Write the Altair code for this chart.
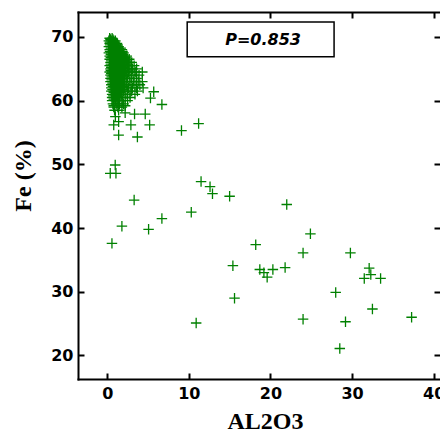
import altair as alt
import pandas as pd

# ---- data ----
# dense cluster: Fe (%) row -> AL2O3 values
cluster_rows = {
    69.8: [0.3, 0.6],
    69.6: [0.4, 0.7],
    69.4: [0.2, 0.5, 0.8, 1.0],
    69.2: [0.35, 0.65, 0.95],
    69.0: [0.3, 0.6, 0.9, 1.2],
    68.75: [0.35, 0.65, 0.95, 1.25],
    68.5: [0.2, 0.5, 0.8, 1.1, 1.4],
    68.25: [0.45, 0.75, 1.05, 1.35, 1.65],
    68.0: [0.3, 0.6, 0.9, 1.2, 1.5, 1.8],
    67.75: [0.35, 0.65, 0.95, 1.25, 1.55, 1.85],
    67.5: [0.2, 0.5, 0.8, 1.1, 1.4, 1.7, 2.0],
    67.25: [0.45, 0.75, 1.05, 1.35, 1.65, 1.95],
    67.0: [0.3, 0.6, 0.9, 1.2, 1.5, 1.8, 2.1, 2.4],
    66.75: [0.45, 0.75, 1.05, 1.35, 1.65, 1.95, 2.25],
    66.5: [0.3, 0.6, 0.9, 1.2, 1.5, 1.8, 2.1, 2.4, 2.7],
    66.25: [0.5, 0.85, 1.15, 1.45, 1.75, 2.05, 2.4],
    66.0: [0.4, 0.7, 1.0, 1.3, 1.6, 1.9, 2.2, 2.6, 3.0],
    65.75: [0.45, 0.75, 1.05, 1.35, 1.65, 1.95, 2.3],
    65.5: [0.3, 0.6, 0.9, 1.2, 1.5, 1.8, 2.1, 2.5, 2.9, 3.3],
    65.25: [0.5, 0.85, 1.15, 1.45, 1.75, 2.1],
    65.0: [0.4, 0.7, 1.0, 1.3, 1.6, 1.9, 2.3, 2.7, 3.1, 3.6],
    64.75: [0.45, 0.75, 1.05, 1.35, 1.7, 2.05],
    64.5: [0.3, 0.6, 0.9, 1.2, 1.5, 1.9, 2.2, 2.6, 3.0, 3.5, 4.3],
    64.25: [0.5, 0.85, 1.15, 1.5, 1.85],
    64.0: [0.4, 0.7, 1.0, 1.3, 1.7, 2.0, 2.4, 2.8, 3.3, 3.9],
    63.75: [0.55, 0.85, 1.2, 1.6, 1.95],
    63.5: [0.4, 0.7, 1.0, 1.4, 1.8, 2.1, 2.5, 3.0, 3.6],
    63.25: [0.55, 0.9, 1.3, 1.7],
    63.0: [0.4, 0.7, 1.1, 1.5, 1.9, 2.3, 2.7, 3.2, 3.8, 4.3],
    62.75: [0.65, 1.0, 1.4, 1.8],
    62.5: [0.5, 0.8, 1.2, 1.6, 2.0, 2.4, 2.9, 3.4, 4.0],
    62.25: [0.7, 1.1, 1.5, 1.9],
    62.0: [0.5, 0.9, 1.3, 1.7, 2.1, 2.6, 3.1, 3.6, 4.4],
    61.75: [0.65, 1.0, 1.4, 1.8],
    61.5: [0.5, 0.8, 1.2, 1.6, 2.0, 2.5, 3.0, 3.7],
    61.25: [0.8, 1.2, 1.6],
    61.0: [0.6, 1.0, 1.4, 1.8, 2.3, 2.8, 3.4],
    60.75: [0.75, 1.1, 1.5],
    60.5: [0.6, 0.9, 1.3, 1.7, 2.2, 2.8],
    60.25: [0.8, 1.2],
    60.0: [0.6, 1.0, 1.4, 1.9, 2.5],
    59.5: [0.7, 1.1, 1.5, 2.0],
    59.0: [0.8, 1.3, 1.8],
    58.5: [0.9, 1.4],
}

# scattered samples
outlier_al2o3 = [5.7, 5.3, 6.7, 0.8, 2.2, 1.0, 2.2, 3.35, 4.66, 1.4, 0.8, 2.9, 5.2,
                 1.4, 3.7, 9.1, 11.2, 0.98, 0.37, 1.07, 3.3, 1.8, 0.58, 5.07, 6.7,
                 10.3, 11.5, 12.6, 12.9, 15.0, 22.0, 10.9, 15.4, 15.6, 18.2, 18.7,
                 19.2, 19.6, 20.3, 21.8, 24.0, 24.9, 24.0, 28.0, 29.2, 28.5, 29.8,
                 32.1, 32.3, 31.5, 33.5, 32.5, 37.3]
outlier_fe = [61.4, 60.4, 59.4, 59.2, 59.2, 57.5, 58.1, 57.9, 57.9, 56.7, 56.2, 56.2, 56.2,
              54.6, 54.3, 55.3, 56.4, 49.9, 48.6, 48.6, 44.4, 40.3, 37.6, 39.8, 41.5,
              42.5, 47.3, 46.5, 45.4, 45.0, 43.7, 25.1, 34.1, 29.0, 37.4, 33.5,
              33.0, 32.3, 33.5, 33.8, 36.1, 39.1, 25.7, 29.9, 25.3, 21.1, 36.1,
              33.7, 32.7, 32.1, 32.1, 27.3, 26.0]

x_ticks = [0, 10, 20, 30, 40]
y_ticks = [20, 30, 40, 50, 60, 70]
annotation_text = "P=0.853"
box_al2o3 = [9.8, 27.8]
box_fe = [66.9, 72.35]
label_pos = [19.1, 69.55]

# ---- build table ----
rows = []
for fe, xs in cluster_rows.items():
    for a in xs:
        rows.append({"AL2O3": a, "Fe": fe})
for a, fe in zip(outlier_al2o3, outlier_fe):
    rows.append({"AL2O3": a, "Fe": fe})
df = pd.DataFrame(rows)

box_df = pd.DataFrame({"x": [box_al2o3[0]], "x2": [box_al2o3[1]],
                       "y": [box_fe[0]], "y2": [box_fe[1]]})
txt_df = pd.DataFrame({"x": [label_pos[0]], "y": [label_pos[1]], "t": [annotation_text]})

W, H = 362, 367
xscale = alt.Scale(domain=[-3.58, 40.78], nice=False, zero=False)
yscale = alt.Scale(domain=[16.31, 73.92], nice=False, zero=False)
cross = "M-1,0L1,0M0,-1L0,1"
GREEN = "#008000"

tick_style = dict(ticks=True, tickColor="black", tickWidth=2, tickSize=6,
                  labels=False, grid=False, title=None)

# main layer with labeled axes (bottom + left) and frame lines
points = alt.Chart(df).mark_point(
    shape=cross, size=110, filled=False, color=GREEN, strokeWidth=1.3, opacity=1
).encode(
    x=alt.X("AL2O3:Q", scale=xscale,
            axis=alt.Axis(orient="bottom", values=x_ticks, ticks=False, grid=False,
                          domain=True, domainColor="black", domainWidth=2, domainCap="square",
                          labelFont="DejaVu Sans", labelFontWeight="bold", labelFontSize=16,
                          labelColor="black", labelPadding=6, labelOverlap=False,
                          title="AL2O3", titleFont="Liberation Serif", titleFontSize=24,
                          titleFontWeight="bold", titleColor="black",
                          titleX=187, titleY=49, titleAlign="center",
                          titleBaseline="alphabetic")),
    y=alt.Y("Fe:Q", scale=yscale,
            axis=alt.Axis(orient="left", values=y_ticks, ticks=False, grid=False,
                          domain=True, domainColor="black", domainWidth=2, domainCap="square",
                          labelFont="DejaVu Sans", labelFontWeight="bold", labelFontSize=16,
                          labelColor="black", labelPadding=5,
                          title="Fe (%)", titleFont="Liberation Serif", titleFontSize=24,
                          titleFontWeight="bold", titleColor="black",
                          titleX=-43, titleY=163.5, titleAngle=-90, titleAlign="center",
                          titleBaseline="bottom")),
)

# inward ticks: bottom (top-orient axis shifted down) and left (right-orient axis shifted left)
ticks_a = alt.Chart(df).mark_point(opacity=0).encode(
    x=alt.X("AL2O3:Q", scale=xscale,
            axis=alt.Axis(orient="top", offset=-H, values=x_ticks, domain=False, **tick_style)),
    y=alt.Y("Fe:Q", scale=yscale,
            axis=alt.Axis(orient="right", offset=-W, values=y_ticks, domain=False, **tick_style)),
)

# inward ticks: top (with top frame line) and right
ticks_b = alt.Chart(df).mark_point(opacity=0).encode(
    x=alt.X("AL2O3:Q", scale=xscale,
            axis=alt.Axis(orient="bottom", offset=-H, values=x_ticks, domain=True,
                          domainColor="black", domainWidth=2, domainCap="square", **tick_style)),
    y=alt.Y("Fe:Q", scale=yscale,
            axis=alt.Axis(orient="left", offset=-W, values=y_ticks, domain=False, **tick_style)),
)

box = alt.Chart(box_df).mark_rect(fill="white", stroke="black", strokeWidth=1.5).encode(
    x=alt.X("x:Q", scale=xscale, axis=None),
    x2="x2:Q",
    y=alt.Y("y:Q", scale=yscale, axis=None),
    y2="y2:Q",
)

label = alt.Chart(txt_df).mark_text(
    font="DejaVu Sans", fontWeight="bold", fontStyle="italic", fontSize=16,
    color="black", align="center", baseline="middle"
).encode(
    x=alt.X("x:Q", scale=xscale, axis=None),
    y=alt.Y("y:Q", scale=yscale, axis=None),
    text="t:N",
)

chart = alt.layer(box, label, ticks_a, ticks_b, points).resolve_axis(
    x="independent", y="independent"
).properties(
    width=W, height=H,
    autosize=alt.AutoSizeParams(type="none"),
    padding={"left": 78, "top": 12, "right": 0, "bottom": 53},
    background="white",
).configure_view(stroke=None)

chart.save("out.html", embed_options={"renderer": "svg", "actions": False})
